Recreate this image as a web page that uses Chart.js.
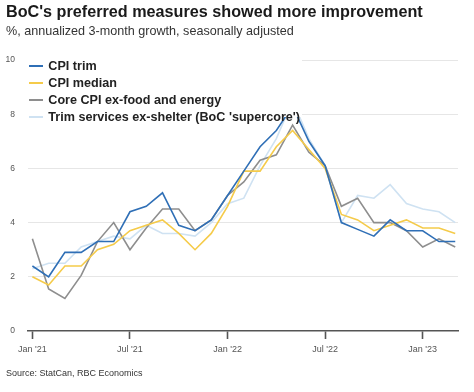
<!DOCTYPE html>
<html>
<head>
<meta charset="utf-8">
<script src="https://cdn.jsdelivr.net/npm/chart.js@4"></script>
<style>
  html, body { margin: 0; padding: 0; background: #fff; }
  body { width: 474px; height: 392px; position: relative; overflow: hidden; font-family: "Liberation Sans", Arial, sans-serif; }
  #c { position: absolute; left: 0; top: 0; }
  .txt { position: absolute; white-space: nowrap; }
  #title { left: 6px; top: 3px; font-size: 16.2px; line-height: 16px; font-weight: bold; color: #1a1a1a; }
  #subtitle { left: 6px; top: 25.3px; font-size: 12.6px; line-height: 12.6px; color: #333; }
  #source { left: 6px; top: 369px; font-size: 9px; line-height: 9px; color: #333; }
  #legend { position: absolute; left: 22px; top: 55px; width: 280px; height: 62px; background: #fff; }
  .row { position: absolute; left: 0; height: 17px; line-height: 17px; font-size: 12.6px; font-weight: bold; color: #222; white-space: nowrap; }
  .row .sw { position: absolute; left: 7px; top: 7.5px; width: 14px; height: 1.5px; }
  .row .lb { position: absolute; left: 26.3px; top: 0; }
</style>
</head>
<body>
<canvas id="c" width="474" height="392" style="width:474px;height:392px"></canvas>
<div id="title" class="txt">BoC's preferred measures showed more improvement</div>
<div id="subtitle" class="txt">%, annualized 3-month growth, seasonally adjusted</div>
<div id="legend"></div>
<div id="source" class="txt">Source: StatCan, RBC Economics</div>
<script>
// ---- Data ----
const months = ['2021-01','2021-02','2021-03','2021-04','2021-05','2021-06','2021-07','2021-08','2021-09','2021-10','2021-11','2021-12',
                '2022-01','2022-02','2022-03','2022-04','2022-05','2022-06','2022-07','2022-08','2022-09','2022-10','2022-11','2022-12',
                '2023-01','2023-02','2023-03'];
const cpiTrim   = [2.4, 2.0, 2.9, 2.9, 3.3, 3.3, 4.4, 4.6, 5.1, 3.9, 3.7, 4.1, 5.0, 5.9, 6.8, 7.4, 8.3, 7.0, 6.1, 4.0, 3.75, 3.5, 4.1, 3.7, 3.7, 3.3, 3.3];
const cpiMedian = [2.0, 1.7, 2.4, 2.4, 3.0, 3.2, 3.7, 3.9, 4.1, 3.6, 3.0, 3.6, 4.6, 5.9, 5.9, 6.8, 7.4, 6.7, 6.0, 4.3, 4.1, 3.7, 3.9, 4.1, 3.8, 3.8, 3.6];
const coreExFE  = [3.4, 1.55, 1.2, 2.05, 3.3, 4.0, 3.0, 3.8, 4.5, 4.5, 3.7, 4.1, 5.0, 5.5, 6.3, 6.5, 7.6, 6.6, 6.1, 4.6, 4.9, 4.0, 4.0, 3.7, 3.1, 3.4, 3.1];
const supercore = [2.3, 2.5, 2.5, 3.1, 3.3, 3.5, 3.4, 3.9, 3.6, 3.6, 3.5, 4.0, 4.7, 4.9, 6.1, 7.1, 8.5, 7.1, 6.1, 4.0, 5.0, 4.9, 5.4, 4.7, 4.5, 4.4, 4.0];
const seriesNames = ['CPI trim', 'CPI median', 'Core CPI ex-food and energy', "Trim services ex-shelter (BoC 'supercore')"];
const seriesColors = ['#2f6fb6', '#f5cb4a', '#8e8e8e', '#cfe2f2'];
const xTickMonths = ['2021-01', '2021-07', '2022-01', '2022-07', '2023-01'];
const xTickLabels = ["Jan '21", "Jul '21", "Jan '22", "Jul '22", "Jan '23"];
const yTicks = [0, 2, 4, 6, 8, 10];

// ---- Build ----
const seriesValues = [cpiTrim, cpiMedian, coreExFE, supercore];
const datasets = seriesValues.map((vals, k) => ({
  label: seriesNames[k],
  data: vals.map((v, i) => ({ x: i, y: v })),
  borderColor: seriesColors[k],
  backgroundColor: seriesColors[k],
  borderWidth: 1.6,
  pointRadius: 0,
  tension: 0,
  fill: false
}));
const tickIdx = xTickMonths.map(m => months.indexOf(m));

new Chart(document.getElementById('c'), {
  type: 'line',
  data: { datasets },
  options: {
    responsive: false,
    animation: false,
    devicePixelRatio: 1,
    layout: { padding: { top: 60, right: 16, bottom: 0, left: 0 } },
    plugins: { legend: { display: false }, tooltip: { enabled: false } },
    scales: {
      x: {
        type: 'linear',
        min: -0.27,
        max: months.length - 1 + 0.17,
        afterBuildTicks: (s) => { s.ticks = tickIdx.map(v => ({ value: v })); },
        afterFit: (s) => { s.height = 61; },
        ticks: {
          autoSkip: false,
          maxRotation: 0,
          padding: 5,
          color: '#555',
          font: { family: 'Liberation Sans', size: 9 },
          callback: (v) => xTickLabels[tickIdx.indexOf(v)]
        },
        grid: { drawOnChartArea: false, drawTicks: true, tickLength: 8, tickColor: '#555', tickWidth: 1.6 },
        border: { display: true, color: '#555', width: 1.5 }
      },
      y: {
        min: 0,
        max: 10,
        afterBuildTicks: (s) => { s.ticks = yTicks.map(v => ({ value: v })); },
        afterFit: (s) => { s.width = 28; },
        ticks: {
          padding: 13,
          color: '#555',
          font: { family: 'Liberation Sans', size: 8.5 }
        },
        grid: {
          drawTicks: false,
          color: (ctx) => (ctx.tick && ctx.tick.value === 0) ? 'rgba(0,0,0,0)' : '#e6e6e6',
          lineWidth: 1
        },
        border: { display: false }
      }
    }
  }
});

// ---- Legend (HTML, white box over chart) ----
const lg = document.getElementById('legend');
seriesNames.forEach((name, k) => {
  const row = document.createElement('div');
  row.className = 'row';
  row.style.top = (2.6 + 17 * k) + 'px';
  const sw = document.createElement('span');
  sw.className = 'sw';
  sw.style.background = seriesColors[k];
  const lb = document.createElement('span');
  lb.className = 'lb';
  lb.textContent = name;
  row.appendChild(sw);
  row.appendChild(lb);
  lg.appendChild(row);
});
</script>
</body>
</html>
